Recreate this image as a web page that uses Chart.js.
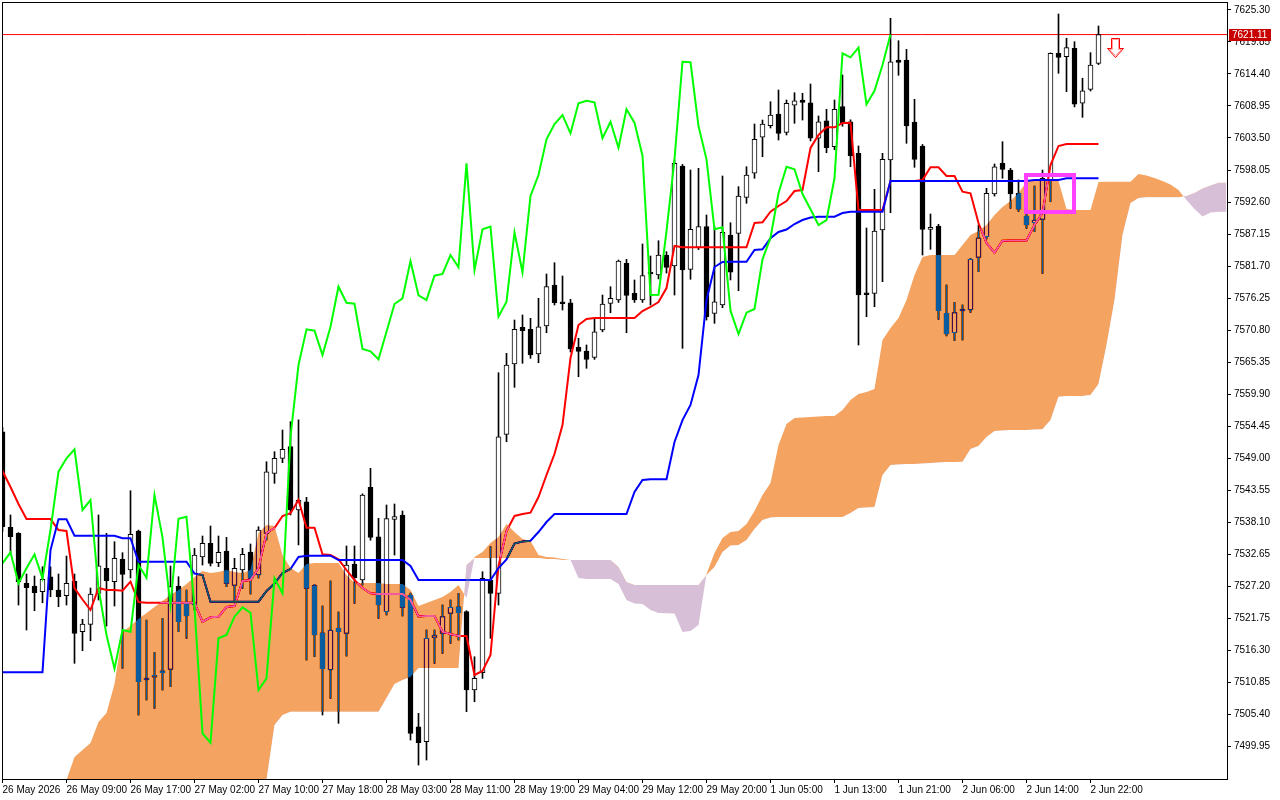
<!DOCTYPE html>
<html>
<head>
<meta charset="utf-8">
<script src="https://cdn.jsdelivr.net/npm/chart.js@4.4.1/dist/chart.umd.min.js"></script>
<style>
html,body{margin:0;padding:0;background:#ffffff;}
#wrap{width:1280px;height:800px;position:relative;}
</style>
</head>
<body>
<div id="wrap"><canvas id="c" width="1280" height="800"></canvas></div>
<script>
// ---------- DATA (hourly bars, index 0 = first visible bar) ----------
const xTickLabels = ['26 May 2026','26 May 09:00','26 May 17:00','27 May 02:00','27 May 10:00','27 May 18:00','28 May 03:00','28 May 11:00','28 May 19:00','29 May 04:00','29 May 12:00','29 May 20:00','1 Jun 05:00','1 Jun 13:00','1 Jun 21:00','2 Jun 06:00','2 Jun 14:00','2 Jun 22:00'];

const yTickValues = [7499.95,7505.40,7510.85,7516.30,7521.75,7527.20,7532.65,7538.10,7543.55,7549.00,7554.45,7559.90,7565.35,7570.80,7576.25,7581.70,7587.15,7592.60,7598.05,7603.50,7608.95,7614.40,7619.85,7625.30];

const openPrices = [7553.48,7537.20,7536.18,7527.66,7527.20,7526.24,7528.79,7526.52,7525.55,7528.06,7519.42,7520.68,7525.96,7530.22,7527.94,7531.75,7529.93,7536.57,7511.20,7511.66,7512.73,7513.02,7527.20,7524.36,7523.97,7532.14,7534.47,7531.17,7533.16,7527.32,7529.93,7533.00,7529.08,7536.18,7546.40,7548.95,7550.93,7540.15,7541.56,7527.26,7519.25,7512.90,7520.05,7519.15,7530.95,7528.23,7544.01,7535.60,7522.83,7538.56,7539.30,7525.67,7503.24,7500.69,7518.47,7519.15,7522.55,7523.68,7522.83,7509.49,7512.44,7528.23,7525.96,7553.04,7565.01,7571.26,7570.92,7566.71,7571.48,7578.46,7575.52,7575.45,7567.85,7567.22,7566.15,7570.80,7575.35,7575.91,7582.16,7577.05,7575.91,7580.46,7580.17,7583.57,7581.70,7598.73,7581.14,7584.88,7588.40,7573.64,7575.06,7586.98,7587.27,7593.40,7597.49,7603.62,7605.59,7607.59,7604.47,7609.07,7609.97,7609.51,7603.45,7606.44,7602.02,7608.83,7606.27,7600.89,7576.90,7577.05,7587.83,7599.75,7616.78,7616.78,7606.22,7602.14,7587.95,7588.51,7573.64,7570.34,7574.04,7574.21,7583.18,7586.69,7593.96,7599.19,7598.05,7594.08,7590.22,7589.07,7589.65,7596.35,7617.92,7617.34,7618.77,7609.41,7611.79,7616.22];
const highPrices = [7554.20,7539.30,7536.30,7529.25,7528.91,7530.49,7530.49,7529.25,7532.31,7529.25,7521.53,7526.86,7539.30,7536.18,7534.75,7532.88,7543.43,7536.74,7521.40,7515.91,7521.70,7530.61,7528.79,7526.52,7533.60,7535.72,7537.42,7535.72,7535.50,7531.92,7533.62,7534.36,7537.30,7548.37,7550.08,7553.77,7555.20,7555.50,7542.31,7527.50,7523.80,7528.06,7522.78,7534.02,7534.02,7542.90,7547.25,7538.73,7541.00,7541.17,7539.98,7526.00,7505.52,7519.71,7519.71,7523.97,7524.82,7525.96,7523.00,7515.16,7529.64,7533.90,7563.53,7566.83,7572.50,7573.36,7572.79,7576.20,7580.34,7582.26,7580.00,7576.03,7569.39,7568.25,7572.62,7576.76,7578.18,7582.72,7582.84,7579.32,7585.45,7583.40,7586.01,7584.14,7599.75,7599.00,7598.05,7598.34,7590.39,7588.40,7597.03,7589.07,7595.21,7598.61,7605.88,7606.56,7609.68,7611.67,7609.97,7611.21,7611.11,7612.69,7607.25,7608.39,7609.97,7614.23,7606.60,7602.14,7588.17,7594.76,7600.89,7623.88,7620.07,7618.60,7610.09,7602.40,7590.56,7588.80,7578.46,7575.52,7575.06,7583.00,7588.68,7594.93,7599.07,7602.87,7598.34,7596.35,7596.64,7595.32,7598.05,7618.00,7624.62,7620.48,7619.90,7613.67,7618.03,7622.57];
const lowPrices = [7536.50,7532.77,7523.97,7519.71,7523.00,7524.36,7525.38,7523.68,7523.97,7514.04,7516.19,7517.89,7524.82,7520.39,7523.80,7513.20,7528.57,7505.24,7507.80,7506.38,7509.50,7510.06,7519.42,7518.30,7523.10,7530.78,7530.61,7530.50,7527.09,7524.53,7526.81,7525.84,7528.57,7535.04,7544.69,7548.20,7539.30,7534.20,7514.60,7515.16,7505.24,7508.08,7503.82,7515.28,7524.26,7527.37,7535.00,7521.70,7522.27,7532.48,7522.10,7500.98,7496.72,7497.57,7514.04,7515.74,7517.45,7518.01,7505.80,7507.50,7511.48,7518.30,7523.97,7551.78,7561.04,7565.13,7565.98,7565.23,7570.34,7575.06,7574.21,7567.05,7562.85,7564.28,7565.80,7570.50,7573.75,7575.50,7570.34,7575.50,7575.50,7575.06,7579.50,7580.50,7576.76,7567.68,7579.44,7584.50,7572.50,7571.94,7574.60,7579.32,7577.50,7592.38,7596.64,7600.31,7605.20,7603.16,7604.01,7606.00,7606.56,7603.00,7597.76,7601.00,7601.50,7605.50,7598.61,7568.25,7573.07,7574.77,7579.03,7590.78,7614.18,7602.60,7598.51,7583.57,7584.54,7572.62,7569.80,7569.00,7569.10,7573.80,7580.73,7586.30,7593.60,7596.64,7591.53,7591.00,7588.12,7587.54,7580.46,7592.65,7614.52,7611.38,7608.80,7607.02,7611.50,7616.00];
const closePrices = [7537.30,7535.60,7527.94,7526.92,7526.07,7528.34,7526.52,7525.38,7527.66,7519.15,7520.73,7525.84,7530.66,7528.11,7531.92,7529.20,7536.01,7510.91,7511.50,7512.00,7512.44,7527.09,7521.13,7522.10,7532.48,7534.47,7531.07,7532.94,7527.66,7530.22,7532.60,7528.51,7536.74,7546.67,7548.95,7550.48,7540.15,7541.85,7526.81,7518.86,7513.12,7519.71,7519.42,7530.78,7528.62,7542.70,7535.50,7523.97,7538.67,7539.01,7523.57,7502.12,7500.52,7518.30,7518.86,7521.98,7523.57,7522.66,7509.49,7511.48,7528.51,7525.96,7552.63,7564.84,7570.92,7570.68,7566.54,7571.36,7578.18,7575.45,7575.28,7567.57,7567.17,7565.81,7570.51,7575.23,7576.20,7582.55,7576.71,7575.91,7580.05,7580.34,7583.57,7581.48,7599.19,7581.02,7587.95,7588.40,7573.07,7575.62,7587.44,7580.63,7593.62,7597.20,7603.28,7605.88,7607.42,7604.30,7609.41,7609.85,7609.58,7603.45,7606.27,7601.85,7608.39,7606.10,7600.48,7576.76,7576.80,7587.66,7599.87,7616.49,7616.39,7605.54,7599.87,7587.95,7588.29,7574.09,7570.12,7573.75,7574.38,7582.84,7586.52,7594.08,7598.61,7598.17,7593.96,7591.36,7588.68,7589.53,7596.64,7617.92,7617.24,7618.88,7609.24,7611.55,7615.93,7621.11];

const tenkanSen = [7546.79,7544.06,7541.17,7538.61,7538.61,7538.61,7538.61,7536.74,7536.57,7526.86,7524.91,7523.12,7526.86,7526.52,7526.52,7526.40,7527.94,7524.48,7524.36,7524.36,7524.36,7524.36,7524.36,7524.36,7524.36,7521.12,7521.87,7521.98,7523.63,7523.80,7528.06,7528.23,7530.22,7536.23,7537.08,7539.13,7539.59,7541.85,7537.13,7537.13,7532.60,7532.48,7531.75,7529.93,7528.23,7526.86,7525.96,7525.84,7525.84,7525.84,7525.84,7524.82,7522.01,7522.10,7522.10,7519.42,7519.03,7518.69,7518.69,7512.05,7512.73,7515.45,7530.61,7536.57,7539.13,7539.47,7539.69,7542.36,7546.11,7549.68,7554.62,7566.03,7571.65,7572.67,7572.84,7572.84,7572.84,7572.84,7572.84,7572.84,7574.04,7574.72,7575.57,7577.95,7585.11,7584.88,7584.88,7584.88,7584.88,7584.88,7584.88,7584.88,7584.88,7584.88,7589.02,7589.14,7590.95,7591.92,7592.77,7594.47,7594.64,7601.80,7604.01,7605.32,7605.32,7606.05,7606.10,7591.24,7591.24,7591.24,7591.24,7596.18,7596.18,7596.18,7596.18,7596.35,7598.51,7598.51,7597.03,7597.03,7594.35,7594.08,7589.02,7585.62,7583.96,7586.01,7586.04,7586.04,7586.04,7588.68,7590.73,7598.90,7602.14,7602.48,7602.48,7602.48,7602.48,7602.48];
const kijunSen = [7512.51,7512.51,7512.51,7512.51,7512.51,7512.51,7533.33,7538.56,7538.56,7535.77,7535.77,7535.77,7535.77,7535.77,7535.77,7535.33,7535.33,7531.34,7531.34,7531.34,7531.34,7531.34,7531.34,7531.34,7529.33,7529.08,7524.53,7524.53,7524.53,7524.53,7524.53,7524.53,7524.53,7526.35,7527.63,7529.42,7530.10,7532.14,7532.36,7532.36,7532.36,7532.36,7531.63,7531.63,7531.63,7531.63,7531.63,7531.63,7531.63,7531.63,7531.63,7530.61,7528.23,7528.23,7528.23,7528.23,7528.23,7528.23,7528.23,7528.23,7528.23,7528.23,7530.27,7531.75,7534.44,7534.78,7534.92,7536.40,7538.10,7539.47,7539.47,7539.47,7539.47,7539.47,7539.47,7539.47,7539.47,7539.47,7539.47,7543.21,7545.26,7545.38,7545.38,7545.38,7551.73,7555.47,7558.03,7563.14,7575.91,7581.53,7582.38,7582.43,7582.43,7582.43,7584.42,7584.54,7586.42,7587.49,7587.92,7588.85,7589.53,7589.96,7590.10,7590.10,7590.10,7590.73,7590.95,7590.95,7590.95,7590.95,7590.95,7596.18,7596.18,7596.18,7596.18,7596.18,7596.18,7596.18,7596.18,7596.18,7596.18,7596.18,7596.18,7596.18,7596.18,7596.18,7596.18,7596.18,7596.18,7596.35,7596.35,7596.35,7596.35,7596.64,7596.64,7596.64,7596.64,7596.64];
// Chikou span: drawn 26 bars back
const chikouSpan = [7531.07,7532.94,7527.66,7530.22,7532.60,7528.51,7536.74,7546.67,7548.95,7550.48,7540.15,7541.85,7526.81,7518.86,7513.12,7519.71,7519.42,7530.78,7528.62,7542.70,7535.50,7523.97,7538.67,7539.01,7523.57,7502.12,7500.52,7518.30,7518.86,7521.98,7523.57,7522.66,7509.49,7511.48,7528.51,7525.96,7552.63,7564.84,7570.92,7570.68,7566.54,7571.36,7578.18,7575.45,7575.28,7567.57,7567.17,7565.81,7570.51,7575.23,7576.20,7582.55,7576.71,7575.91,7580.05,7580.34,7583.57,7581.48,7599.19,7581.02,7587.95,7588.40,7573.07,7575.62,7587.44,7580.63,7593.62,7597.20,7603.28,7605.88,7607.42,7604.30,7609.41,7609.85,7609.58,7603.45,7606.27,7601.85,7608.39,7606.10,7600.48,7576.76,7576.80,7587.66,7599.87,7616.49,7616.39,7605.54,7599.87,7587.95,7588.29,7574.09,7570.12,7573.75,7574.38,7582.84,7586.52,7594.08,7598.61,7598.17,7593.96,7591.36,7588.68,7589.53,7596.64,7617.92,7617.24,7618.88,7609.24,7611.55,7615.93,7621.11];
// Senkou spans (already shifted 26 bars ahead; 154 positions)
const senkouSpanA = [7480.00,7480.00,7480.00,7480.00,7482.00,7484.00,7487.00,7489.91,7494.17,7498.08,7499.28,7500.47,7504.04,7505.58,7510.51,7519.37,7520.39,7521.58,7522.61,7523.63,7524.65,7525.67,7526.52,7527.54,7528.74,7529.76,7529.42,7529.59,7529.93,7529.59,7529.42,7529.93,7536.23,7537.59,7537.42,7532.48,7530.27,7529.42,7530.95,7531.12,7531.12,7531.12,7531.12,7529.08,7527.72,7527.72,7527.72,7527.72,7527.55,7527.55,7527.55,7526.52,7523.80,7524.31,7524.82,7525.33,7526.18,7527.38,7525.16,7532.14,7532.99,7534.53,7535.55,7537.76,7536.40,7535.21,7534.87,7532.48,7532.14,7532.06,7531.80,7531.63,7528.57,7528.40,7528.40,7528.40,7528.40,7527.55,7524.82,7524.23,7524.14,7523.12,7522.61,7522.55,7522.52,7519.37,7519.54,7520.56,7529.25,7532.82,7535.38,7536.40,7536.57,7537.76,7539.98,7542.70,7544.75,7551.22,7554.79,7555.81,7555.90,7555.98,7556.07,7556.16,7556.16,7557.18,7558.88,7559.90,7560.24,7560.75,7569.10,7571.14,7572.84,7575.91,7580.17,7583.23,7583.57,7583.57,7583.57,7583.57,7585.28,7586.98,7587.66,7588.68,7590.39,7591.75,7592.77,7594.13,7596.01,7596.18,7596.18,7596.18,7596.18,7591.41,7591.24,7591.24,7591.24,7596.01,7596.06,7596.06,7596.06,7596.06,7597.37,7597.11,7596.69,7596.18,7595.58,7594.64,7592.94,7591.41,7590.13,7590.81,7590.95,7590.95];
const senkouSpanB = [7485.00,7485.00,7485.00,7485.00,7485.00,7485.00,7485.00,7485.00,7485.00,7485.00,7485.00,7485.00,7485.00,7485.00,7485.00,7485.00,7485.00,7485.00,7485.00,7485.00,7485.00,7485.00,7485.00,7485.00,7485.00,7485.00,7485.00,7485.00,7485.00,7485.00,7485.00,7485.00,7485.65,7494.17,7503.53,7505.24,7505.80,7505.80,7505.80,7505.80,7505.80,7505.80,7505.80,7505.80,7505.80,7505.80,7505.80,7505.80,7508.13,7510.51,7511.20,7511.71,7513.24,7513.24,7513.24,7513.24,7513.24,7513.24,7530.78,7531.97,7531.97,7531.97,7531.97,7531.97,7531.97,7531.97,7531.97,7531.97,7531.80,7531.80,7531.63,7531.63,7531.63,7531.63,7531.63,7531.63,7531.63,7530.44,7527.89,7527.38,7527.38,7527.38,7527.38,7527.38,7527.38,7527.38,7527.38,7527.38,7529.08,7530.44,7533.00,7534.10,7534.19,7535.04,7536.91,7538.44,7538.87,7538.96,7538.96,7538.96,7538.96,7538.96,7538.96,7538.96,7538.96,7538.96,7539.64,7540.49,7540.58,7540.66,7546.11,7547.81,7547.89,7547.98,7547.98,7548.07,7548.15,7548.24,7548.32,7548.32,7548.37,7550.53,7551.05,7552.58,7553.60,7553.68,7553.77,7553.77,7553.77,7553.86,7553.89,7555.47,7559.44,7559.56,7559.56,7559.56,7559.73,7561.60,7568.25,7575.91,7586.98,7592.43,7593.28,7593.40,7593.40,7593.40,7593.40,7593.40,7593.62,7594.13,7594.90,7595.41,7595.89,7595.89];

const currentPrice = 7621.11;
const selectionBox = { barFrom: 127.94, barTo: 133.94, priceTop: 7597.20, priceBottom: 7590.90 };
const sellArrow = { bar: 139, price: 7620.50 };

// ---------- CHART ----------
Chart.defaults.font.family = "'Liberation Sans', Arial, sans-serif";
Chart.defaults.font.size = 10;
Chart.defaults.color = '#000000';

const IDX_SPANB = 5, IDX_SPANA = 6;
const toXY = arr => arr.map((v, i) => ({ x: i, y: v }));

const wickData = lowPrices.map((l, i) => ({ x: i, y: [l, highPrices[i]] }));
const bodyData = openPrices.map((o, i) => ({ x: i, y: [o, closePrices[i]] }));
const bodyColors = openPrices.map((o, i) => closePrices[i] >= o ? '#ffffff' : '#000000');

const whiteBackground = {
  id: 'whiteBackground',
  beforeDraw(chart) {
    const ctx = chart.ctx;
    ctx.save();
    ctx.globalCompositeOperation = 'source-over';
    ctx.fillStyle = '#ffffff';
    ctx.fillRect(0, 0, chart.width, chart.height);
    ctx.restore();
  }
};

const cloudBlend = {
  id: 'cloudBlend',
  afterDatasetDraw(chart, args) {
    if (args.index === IDX_SPANB) chart.ctx.globalCompositeOperation = 'difference';
    if (args.index === IDX_SPANA) chart.ctx.globalCompositeOperation = 'source-over';
  }
};

const overlays = {
  id: 'overlays',
  afterDatasetsDraw(chart) {
    const ctx = chart.ctx, xs = chart.scales.x, ys = chart.scales.y, a = chart.chartArea;
    ctx.save();
    ctx.globalCompositeOperation = 'source-over';
    const x0 = xs.getPixelForValue(selectionBox.barFrom), x1 = xs.getPixelForValue(selectionBox.barTo);
    const y0 = ys.getPixelForValue(selectionBox.priceTop), y1 = ys.getPixelForValue(selectionBox.priceBottom);
    ctx.strokeStyle = '#ff40ff';
    ctx.lineWidth = 4;
    ctx.strokeRect(Math.round(x0), Math.round(y0), Math.round(x1 - x0), Math.round(y1 - y0));
    const cx = Math.round(xs.getPixelForValue(sellArrow.bar)) + 0.5;
    const ty = Math.round(ys.getPixelForValue(sellArrow.price)) + 0.5;
    const arrowPath = (sw, hw, sh, hh, dy) => {
      ctx.beginPath();
      ctx.moveTo(cx - sw, ty + dy);
      ctx.lineTo(cx + sw, ty + dy);
      ctx.lineTo(cx + sw, ty + sh);
      ctx.lineTo(cx + hw, ty + sh);
      ctx.lineTo(cx, ty + hh);
      ctx.lineTo(cx - hw, ty + sh);
      ctx.lineTo(cx - sw, ty + sh);
      ctx.closePath();
    };
    arrowPath(4, 8, 10, 19, 0);
    ctx.fillStyle = '#ffffff';
    ctx.fill();
    ctx.strokeStyle = '#ff0000';
    ctx.lineWidth = 1;
    ctx.stroke();
    arrowPath(3, 6, 11, 17, 1);
    ctx.strokeStyle = '#ffa0a0';
    ctx.stroke();
    ctx.strokeStyle = '#000000';
    ctx.lineWidth = 1;
    ctx.strokeRect(a.left + 0.5, a.top + 0.5, a.right - a.left, a.bottom - a.top);
    ctx.restore();
  },
  afterDraw(chart) {
    const ctx = chart.ctx, ys = chart.scales.y, a = chart.chartArea;
    const y = Math.round(ys.getPixelForValue(currentPrice));
    ctx.save();
    ctx.fillStyle = '#c80000';
    ctx.fillRect(a.right + 2, y - 6, 42, 12);
    ctx.fillStyle = '#ffffff';
    ctx.font = "10px 'Liberation Sans', Arial, sans-serif";
    ctx.textBaseline = 'middle';
    ctx.textAlign = 'left';
    ctx.fillText(currentPrice.toFixed(2), a.right + 5, y + 0.5);
    ctx.restore();
  }
};

new Chart(document.getElementById('c'), {
  type: 'bar',
  data: {
    datasets: [
      { type: 'line', label: 'price', data: [{ x: -1, y: currentPrice }, { x: 160, y: currentPrice }],
        borderColor: '#ff0000', borderWidth: 1, pointRadius: 0, fill: false, order: 11 },
      { type: 'bar', label: 'wicks', data: wickData, backgroundColor: '#000000', borderWidth: 0,
        barThickness: 1, grouped: false, order: 10 },
      { type: 'bar', label: 'bodies', data: bodyData, backgroundColor: bodyColors, borderColor: '#000000',
        borderWidth: 1, borderSkipped: false, barThickness: 5, minBarLength: 2, grouped: false, order: 9 },
      { type: 'line', label: 'Tenkan-sen', data: toXY(tenkanSen), borderColor: '#ff0000', borderWidth: 2,
        pointRadius: 0, tension: 0, fill: false, order: 8 },
      { type: 'line', label: 'Kijun-sen', data: toXY(kijunSen), borderColor: '#0000ff', borderWidth: 2,
        pointRadius: 0, tension: 0, fill: false, order: 7 },
      { type: 'line', label: 'Senkou Span B', data: toXY(senkouSpanB), borderColor: 'rgba(0,0,0,0)', borderWidth: 0,
        pointRadius: 0, tension: 0, fill: false, order: 6 },
      { type: 'line', label: 'Senkou Span A', data: toXY(senkouSpanA), borderColor: 'rgba(0,0,0,0)', borderWidth: 0,
        pointRadius: 0, tension: 0, order: 5,
        fill: { target: IDX_SPANB, above: '#0b5b9f', below: '#274027' } },
      { type: 'line', label: 'Chikou Span', data: toXY(chikouSpan), borderColor: '#00ff00', borderWidth: 2,
        pointRadius: 0, tension: 0, fill: false, order: 4 }
    ]
  },
  options: {
    responsive: false,
    devicePixelRatio: 1,
    animation: false,
    events: [],
    layout: { padding: { left: 2, top: 2, right: 0, bottom: 0 } },
    plugins: { legend: { display: false }, tooltip: { enabled: false }, filler: { propagate: false } },
    scales: {
      x: {
        type: 'linear', offset: false, min: -0.0625, max: 153.0625,
        grid: { display: true, offset: false, drawOnChartArea: false, drawTicks: true, tickLength: 4, color: '#000000' },
        border: { display: true, color: '#000000' },
        ticks: { autoSkip: false, maxRotation: 0, minRotation: 0, align: 'start', padding: 1,
                 font: { size: 10 }, callback: (v, i) => xTickLabels[i] },
        afterBuildTicks: s => { s.ticks = xTickLabels.map((t, j) => ({ value: j * 8 })); },
        afterFit: s => { s.height = 21; s.paddingLeft = 0; s.paddingRight = 0; }
      },
      y: {
        type: 'linear', position: 'right', min: 7494.34, max: 7626.66, beginAtZero: false,
        grid: { display: true, drawOnChartArea: false, drawTicks: true, tickLength: 4, color: '#000000' },
        border: { display: true, color: '#000000' },
        ticks: { autoSkip: false, padding: 3, font: { size: 10 }, callback: v => Number(v).toFixed(2) },
        afterBuildTicks: s => { s.ticks = yTickValues.map(v => ({ value: v })); },
        afterFit: s => { s.width = 53; s.paddingTop = 0; s.paddingBottom = 0; }
      }
    }
  },
  plugins: [whiteBackground, cloudBlend, overlays]
});
</script>
</body>
</html>
